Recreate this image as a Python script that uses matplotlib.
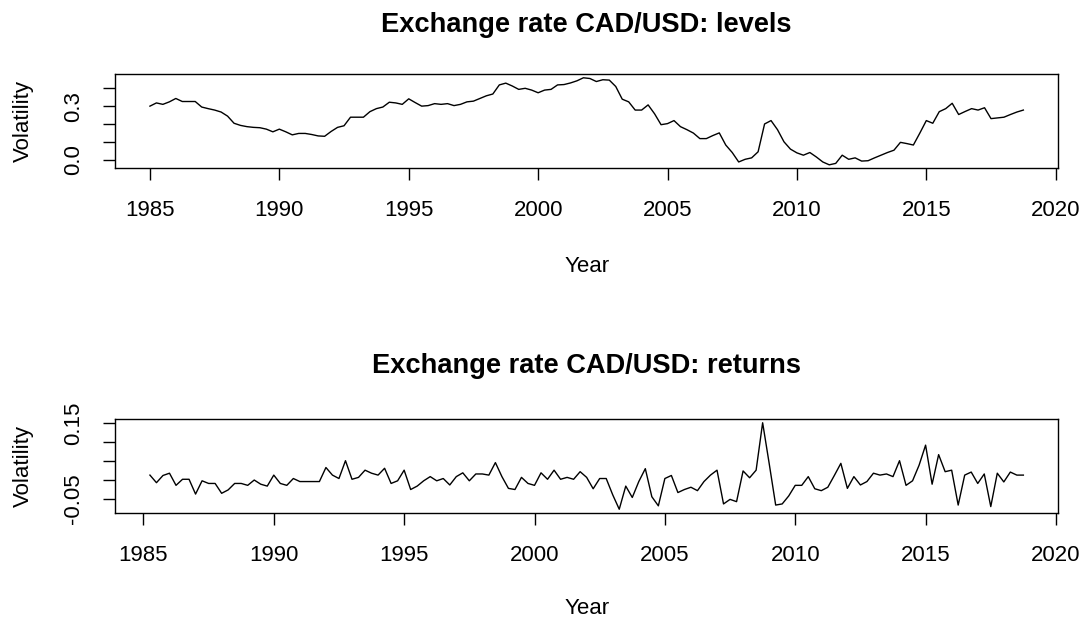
import numpy as np
import matplotlib
matplotlib.use("Agg")
import matplotlib.pyplot as plt

plt.rcParams["font.family"] = ["Liberation Sans", "DejaVu Sans"]

# quarterly series, CAD/USD
LEVEL_START = 1985.0
RET_START = 1985.25

levels = [
    0.300, 0.318, 0.310, 0.324, 0.343, 0.326, 0.326, 0.326, 0.295, 0.286,
    0.278, 0.267, 0.244, 0.204, 0.192, 0.185, 0.181, 0.179, 0.171, 0.156,
    0.171, 0.156, 0.139, 0.147, 0.147, 0.141, 0.133, 0.131, 0.158, 0.181,
    0.190, 0.238, 0.238, 0.238, 0.269, 0.286, 0.295, 0.322, 0.318, 0.310,
    0.341, 0.320, 0.300, 0.303, 0.314, 0.310, 0.314, 0.303, 0.310, 0.324,
    0.328, 0.343, 0.358, 0.368, 0.419, 0.429, 0.413, 0.394, 0.400, 0.390,
    0.375, 0.390, 0.394, 0.419, 0.421, 0.430, 0.442, 0.459, 0.455, 0.438,
    0.448, 0.446, 0.410, 0.339, 0.324, 0.278, 0.278, 0.307, 0.257, 0.196,
    0.202, 0.219, 0.185, 0.168, 0.149, 0.118, 0.118, 0.135, 0.150, 0.082,
    0.040, -0.013, 0.002, 0.010, 0.044, 0.200, 0.219, 0.168, 0.100, 0.059,
    0.038, 0.025, 0.040, 0.015, -0.013, -0.029, -0.021, 0.025, 0.002, 0.010,
    -0.008, -0.006, 0.010, 0.025, 0.040, 0.053, 0.097, 0.090, 0.082, 0.149,
    0.219, 0.204, 0.269, 0.286, 0.316, 0.253, 0.270, 0.286, 0.278, 0.291,
    0.230, 0.234, 0.238, 0.253, 0.267, 0.278,
]

returns = [
    0.013, -0.007, 0.012, 0.018, -0.014, 0.002, 0.002, -0.037, -0.002, -0.009,
    -0.009, -0.035, -0.026, -0.009, -0.009, -0.014, 0.000, -0.011, -0.016, 0.013,
    -0.009, -0.014, 0.004, -0.004, -0.004, -0.004, -0.004, 0.033, 0.013, 0.004,
    0.051, 0.002, 0.007, 0.026, 0.018, 0.013, 0.031, -0.009, -0.002, 0.026,
    -0.025, -0.016, -0.002, 0.009, -0.002, 0.004, -0.013, 0.009, 0.019, -0.002,
    0.016, 0.016, 0.013, 0.046, 0.009, -0.022, -0.025, 0.007, -0.009, -0.014,
    0.019, 0.002, 0.026, 0.002, 0.007, 0.002, 0.022, 0.007, -0.023, 0.004,
    0.004, -0.039, -0.077, -0.016, -0.046, -0.004, 0.030, -0.044, -0.068, 0.004,
    0.012, -0.033, -0.025, -0.019, -0.028, -0.004, 0.013, 0.026, -0.063, -0.051,
    -0.057, 0.024, 0.006, 0.026, 0.151, 0.044, -0.066, -0.063, -0.042, -0.014,
    -0.014, 0.009, -0.023, -0.028, -0.019, 0.012, 0.044, -0.022, 0.009, -0.013,
    -0.004, 0.018, 0.013, 0.016, 0.009, 0.051, -0.014, -0.002, 0.039, 0.092,
    -0.011, 0.067, 0.022, 0.026, -0.066, 0.013, 0.021, -0.009, 0.016, -0.070,
    0.018, -0.005, 0.021, 0.013, 0.013,
]

year_ticks = [1985, 1990, 1995, 2000, 2005, 2010, 2015, 2020]
level_ticks = [0.0, 0.1, 0.2, 0.3, 0.4]
level_labels = ["0.0", "", "", "0.3", ""]
ret_ticks = [-0.05, 0.0, 0.05, 0.10, 0.15]
ret_labels = ["-0.05", "", "", "", "0.15"]

W, H = 1089, 626
DPI = 100
FS = 16.0
FS_TITLE = 19.6


def r_lim(v):
    # R-style axis range: data range widened by 4% each side
    lo, hi = min(v), max(v)
    pad = 0.04 * (hi - lo)
    return lo - pad, hi + pad


def panel(fig, box, t, y, title, yticks, ylabels, title_y, xlab_y):
    left, top, right, bottom = box
    ax = fig.add_axes([left / W, 1 - bottom / H, (right - left) / W, (bottom - top) / H])
    ax.plot(t, y, color="black", lw=1.0)
    ax.set_xlim(*r_lim(t))
    ax.set_ylim(*r_lim(y))
    ax.set_xticks(year_ticks)
    ax.set_xticklabels([str(v) for v in year_ticks])
    ax.set_yticks(yticks)
    ax.set_yticklabels(ylabels, rotation=90, va="center")
    ax.tick_params(direction="out", length=8.6, width=1.0, labelsize=FS,
                   colors="black")
    ax.tick_params(axis="x", pad=14.5)
    ax.tick_params(axis="y", pad=13.5)
    for s in ax.spines.values():
        s.set_linewidth(1.0)
    cx = (left + right) / 2 / W
    fig.text(cx, 1 - title_y / H, title, ha="center", va="baseline",
             fontsize=FS_TITLE, fontweight="bold")
    fig.text(cx, 1 - xlab_y / H, "Year", ha="center", va="baseline", fontsize=FS)
    fig.text(23 / W, 1 - (top + bottom) / 2 / H, "Volatility", rotation=90,
             ha="center", va="center", fontsize=FS)
    return ax


fig = plt.figure(figsize=(W / DPI, H / DPI), dpi=DPI)

t_lev = LEVEL_START + 0.25 * np.arange(len(levels))
t_ret = RET_START + 0.25 * np.arange(len(returns))

panel(fig, (115, 74.3, 1058.3, 168.3), t_lev, levels,
      "Exchange rate CAD/USD: levels", level_ticks, level_labels, 31.7, 272)
panel(fig, (115, 419.3, 1058.3, 512.7), t_ret, returns,
      "Exchange rate CAD/USD: returns", ret_ticks, ret_labels, 373, 614)

fig.savefig("out.png", dpi=DPI, facecolor="white")
